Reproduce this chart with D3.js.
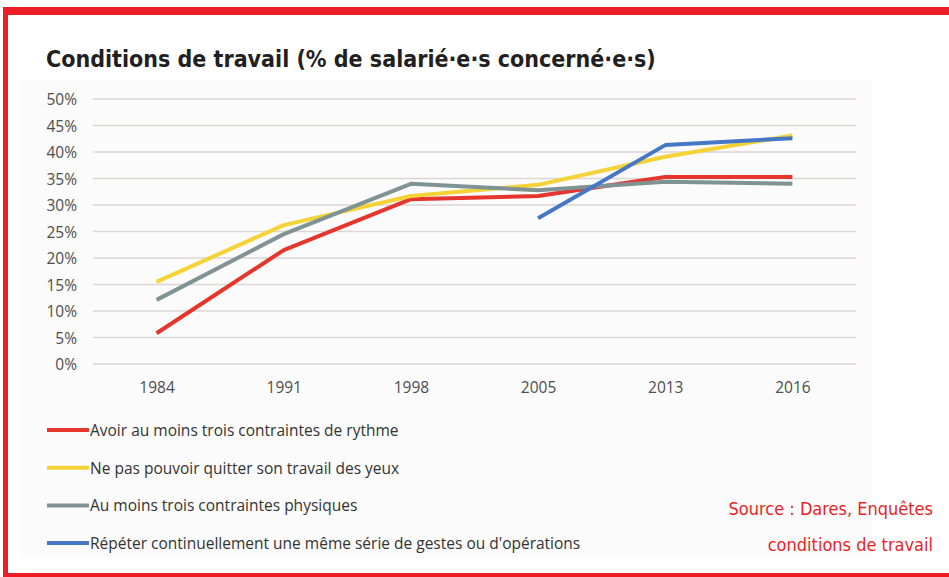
<html>
<head>
<style>
  body { margin: 0; background: #fff; }
  svg { display: block; }
</style>
</head>
<body>
<svg width="949" height="577"></svg>
<script src="https://d3js.org/d3.v7.min.js"></script>
<script>
var years = ["1984", "1991", "1998", "2005", "2013", "2016"];
var yTicks = [0, 5, 10, 15, 20, 25, 30, 35, 40, 45, 50];

var rythme   = [5.8, 21.5, 31.1, 31.7, 35.3, 35.3];
var yeux     = [15.5, 26.2, 31.7, 33.8, 39.1, 43.1];
var physique = [12.1, 24.5, 34.0, 32.8, 34.4, 34.0];
var repeter  = [null, null, null, 27.5, 41.3, 42.6];

var seriesNames = [
  "Avoir au moins trois contraintes de rythme",
  "Ne pas pouvoir quitter son travail des yeux",
  "Au moins trois contraintes physiques",
  "Répéter continuellement une même série de gestes ou d'opérations"
];
var colors = ["#e5362e", "#f5d236", "#7f9394", "#4677c6"];
var allSeries = [rythme, yeux, physique, repeter];

var svg = d3.select("svg");

// cadre rouge
svg.append("rect").attr("x", 3).attr("y", 7).attr("width", 946).attr("height", 8).attr("fill", "#ee1d25");
svg.append("rect").attr("x", 3).attr("y", 7).attr("width", 5).attr("height", 570).attr("fill", "#ee1d25");
svg.append("rect").attr("x", 3).attr("y", 573).attr("width", 946).attr("height", 4).attr("fill", "#ee1d25");

// fond du graphique
svg.append("rect").attr("x", 20).attr("y", 80).attr("width", 852).attr("height", 478).attr("fill", "#fbfbfb");

svg.append("text")
  .attr("x", 46).attr("y", 67)
  .attr("font-family", "'DejaVu Sans Condensed', 'DejaVu Sans'")
  .attr("font-weight", "bold")
  .attr("font-size", 23)
  .attr("fill", "#231f20")
  .text("Conditions de travail (% de salarié·e·s concerné·e·s)");

var x = d3.scalePoint().domain(years).range([93, 856]).padding(0.5);
var y = d3.scaleLinear().domain([0, 50]).range([364, 99]);

var grid = svg.append("g");
grid.selectAll("line").data(yTicks).enter().append("line")
  .attr("x1", 93).attr("x2", 856)
  .attr("y1", d => y(d)).attr("y2", d => y(d))
  .attr("stroke", "#dcd6d4").attr("stroke-width", 1.5);

var yAxis = svg.append("g")
  .attr("transform", "translate(77,1)")
  .call(d3.axisLeft(y).tickValues(yTicks).tickSize(0).tickPadding(0).tickFormat(d => d + "%"));
yAxis.select(".domain").remove();
yAxis.selectAll("text")
  .attr("font-family", "'Open Sans', sans-serif")
  .attr("font-size", 15.5)
  .attr("fill", "#4d4d4d");

var xAxis = svg.append("g")
  .attr("transform", "translate(0,382)")
  .call(d3.axisBottom(x).tickSize(0).tickPadding(0));
xAxis.select(".domain").remove();
xAxis.selectAll("text")
  .attr("font-family", "'Open Sans', sans-serif")
  .attr("font-size", 15.5)
  .attr("fill", "#4d4d4d");

var line = d3.line()
  .defined(d => d != null)
  .x((d, i) => x(years[i]))
  .y(d => y(d));

svg.selectAll(".serie").data(allSeries).enter().append("path")
  .attr("class", "serie")
  .attr("d", d => line(d))
  .attr("fill", "none")
  .attr("stroke", (d, i) => colors[i])
  .attr("stroke-width", 4)
  .attr("stroke-linejoin", "round");

// légende
var leg = svg.selectAll(".leg").data(seriesNames).enter().append("g")
  .attr("class", "leg")
  .attr("transform", (d, i) => "translate(47," + (430 + i * 37.7) + ")");
leg.append("line")
  .attr("x1", 0).attr("x2", 42).attr("y1", 0).attr("y2", 0)
  .attr("stroke", (d, i) => colors[i]).attr("stroke-width", 4);
leg.append("text")
  .attr("x", 43).attr("y", 6)
  .attr("font-family", "'Open Sans', sans-serif")
  .attr("font-size", 15.5)
  .attr("fill", "#333")
  .text(d => d);

var source = ["Source : Dares, Enquêtes", "conditions de travail"];
svg.selectAll(".src").data(source).enter().append("text")
  .attr("class", "src")
  .attr("x", 933).attr("y", (d, i) => 515 + i * 36)
  .attr("text-anchor", "end")
  .attr("font-family", "'DejaVu Sans Condensed', 'DejaVu Sans'")
  .attr("font-size", 18)
  .attr("fill", "#ee1d25")
  .text(d => d);
</script>
</body>
</html>
